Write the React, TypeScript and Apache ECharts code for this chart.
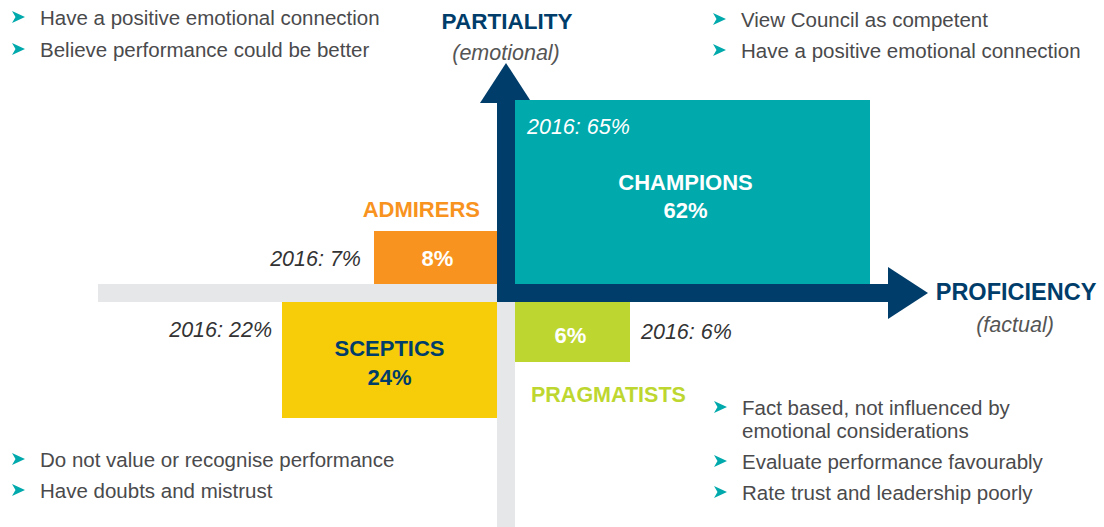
import React, { useEffect, useRef } from "react";
import * as echarts from "echarts";

// ---------- data ----------
const segments = ["CHAMPIONS", "ADMIRERS", "SCEPTICS", "PRAGMATISTS"];
const valuesNow = [62, 8, 24, 6];
const values2016 = [65, 7, 22, 6];
// quadrant of each segment (x sign, y sign)
const quadX = [1, -1, -1, 1];
const quadY = [1, 1, -1, -1];
// extent of each block along the two axes (axis units)
const extentX = [355, 123, 215, 115];
const extentY = [184, 53, 116, 60];

const axisTitles = ["PARTIALITY", "PROFICIENCY"];
const axisSubtitles = ["(emotional)", "(factual)"];

const bulletsTopLeft = ["Have a positive emotional connection", "Believe performance could be better"];
const bulletsTopRight = ["View Council as competent", "Have a positive emotional connection"];
const bulletsBottomLeft = ["Do not value or recognise performance", "Have doubts and mistrust"];
const bulletsBottomRight = [
  "Fact based, not influenced by\nemotional considerations",
  "Evaluate performance favourably",
  "Rate trust and leadership poorly",
];

// ---------- styles / layout ----------
const FONT = '"Liberation Sans", Arial, Helvetica, sans-serif';
const NAVY = "#003D6A";
const GREY = "#E6E7E8";
const TEAL = "#00A9AC";
const COLORS = [TEAL, "#F7931E", "#F7CC08", "#BED730"];
const TEXT_GREY = "#4A4A4C";
const BAR = 9; // half thickness of the axis bands
const AXIS_LEFT = -408;
const AXIS_BOTTOM = -234;
const UP_END = 190;
const UP_TIP = 230;
const RIGHT_END = 382;
const RIGHT_TIP = 422;
const HEAD = 26;

function bulletBlock(lines: string[], x: number, ys: number[]) {
  const els: any[] = [];
  lines.forEach((t, i) => {
    const multi = t.includes("\n");
    els.push({
      type: "polygon",
      x: x,
      y: ys[i] - 6,
      shape: { points: [[0, 0], [13, 6], [0, 12], [3.5, 6]] },
      style: { fill: TEAL },
    });
    els.push({
      type: "text",
      x: x + 28,
      y: multi ? ys[i] - 11.5 : ys[i],
      style: {
        text: t,
        fill: TEXT_GREY,
        fontSize: 20.5,
        fontFamily: FONT,
        lineHeight: 23,
        align: "left",
        verticalAlign: multi ? "top" : "middle",
      },
    });
  });
  return els;
}

function segmentLabels(i: number, L: number, T: number, R: number, B: number) {
  const cx = (L + R) / 2;
  const cy = (T + B) / 2;
  const bold = (text: string, x: number, y: number, fill: string, align = "center", size = 22, lh = 28) => ({
    type: "text",
    x,
    y,
    style: { text, fill, fontSize: size, fontWeight: "bold", fontFamily: FONT, align, verticalAlign: "middle", lineHeight: lh },
  });
  const ital = (text: string, x: number, y: number, fill: string, align: string) => ({
    type: "text",
    x,
    y,
    style: { text, fill, fontSize: 21.5, fontStyle: "italic", fontFamily: FONT, align, verticalAlign: "middle" },
  });
  const name = segments[i];
  const val = valuesNow[i] + "%";
  const prev = "2016: " + values2016[i] + "%";
  switch (i) {
    case 0:
      return [
        bold(name + "\n" + val, cx - 7, cy + 4, "#ffffff", "center", 22, 28),
        ital(prev, L + 12, T + 27, "#ffffff", "left"),
      ];
    case 1:
      return [
        bold(name, R - 17, T - 22, COLORS[1], "right"),
        bold(val, cx + 2, cy + 1, "#ffffff"),
        ital(prev, L - 13, cy + 1, "#333333", "right"),
      ];
    case 2:
      return [
        bold(name + "\n" + val, cx, cy + 3, NAVY, "center", 22, 29),
        ital(prev, L - 10, T + 28, "#333333", "right"),
      ];
    default:
      return [
        bold(val, cx - 2, cy + 3, "#ffffff"),
        bold(name, L + 16, B + 33, COLORS[3], "left", 21.5),
        ital(prev, R + 11, cy, "#333333", "left"),
      ];
  }
}

const blockData = segments.map((_, i) => [
  quadX[i] * BAR,
  quadY[i] * BAR,
  quadX[i] * (BAR + extentX[i]),
  quadY[i] * (BAR + extentY[i]),
]);

export default function App() {
  const ref = useRef<HTMLDivElement>(null);
  useEffect(() => {
    if (!ref.current) return;
    const chart = echarts.init(ref.current, null, { renderer: "svg" });
    const option: any = {
      animation: false,
      backgroundColor: "#ffffff",
      grid: { left: 0, right: 0, top: 0, bottom: 0 },
      xAxis: { type: "value", min: -506, max: 598, show: false },
      yAxis: { type: "value", min: -234, max: 293, show: false },
      graphic: [
        ...bulletBlock(bulletsTopLeft, 12, [17, 49]),
        ...bulletBlock(bulletsTopRight, 713, [19, 50]),
        ...bulletBlock(bulletsBottomLeft, 12, [459, 490]),
        ...bulletBlock(bulletsBottomRight, 714, [407, 461, 492]),
      ],
      series: [
        {
          type: "custom",
          coordinateSystem: "cartesian2d",
          silent: true,
          z: 1,
          data: [[0, 0]],
          renderItem: (_params: any, api: any) => {
            const p = (x: number, y: number) => api.coord([x, y]);
            const box = (x0: number, y0: number, x1: number, y1: number, fill: string) => {
              const a = p(x0, y0);
              const b = p(x1, y1);
              return {
                type: "rect",
                shape: {
                  x: Math.min(a[0], b[0]),
                  y: Math.min(a[1], b[1]),
                  width: Math.abs(b[0] - a[0]),
                  height: Math.abs(b[1] - a[1]),
                },
                style: { fill },
              };
            };
            const upTip = p(0, UP_TIP);
            const rightTip = p(RIGHT_TIP, 0);
            return {
              type: "group",
              children: [
                box(AXIS_LEFT, -BAR, -BAR, BAR, GREY),
                box(-BAR, -BAR, BAR, AXIS_BOTTOM, GREY),
                box(-BAR, -BAR, BAR, UP_END, NAVY),
                box(-BAR, -BAR, RIGHT_END, BAR, NAVY),
                {
                  type: "polygon",
                  shape: { points: [p(-HEAD, UP_END), p(0, UP_TIP), p(HEAD, UP_END)] },
                  style: { fill: NAVY },
                },
                {
                  type: "polygon",
                  shape: { points: [p(RIGHT_END, HEAD), p(RIGHT_TIP, 0), p(RIGHT_END, -HEAD)] },
                  style: { fill: NAVY },
                },
                {
                  type: "text",
                  x: upTip[0] + 1,
                  y: upTip[1] - 42,
                  style: { text: axisTitles[0], fill: NAVY, fontSize: 22.5, fontWeight: "bold", fontFamily: FONT, align: "center", verticalAlign: "middle" },
                },
                {
                  type: "text",
                  x: upTip[0],
                  y: upTip[1] - 10,
                  style: { text: axisSubtitles[0], fill: "#555555", fontSize: 21.5, fontStyle: "italic", fontFamily: FONT, align: "center", verticalAlign: "middle" },
                },
                {
                  type: "text",
                  x: rightTip[0] + 88,
                  y: rightTip[1] - 1,
                  style: { text: axisTitles[1], fill: NAVY, fontSize: 23.5, fontWeight: "bold", fontFamily: FONT, align: "center", verticalAlign: "middle" },
                },
                {
                  type: "text",
                  x: rightTip[0] + 87,
                  y: rightTip[1] + 32,
                  style: { text: axisSubtitles[1], fill: "#555555", fontSize: 21.5, fontStyle: "italic", fontFamily: FONT, align: "center", verticalAlign: "middle" },
                },
              ],
            };
          },
        },
        {
          type: "custom",
          coordinateSystem: "cartesian2d",
          silent: true,
          z: 2,
          data: blockData,
          renderItem: (params: any, api: any) => {
            const i = params.dataIndex;
            const a = api.coord([api.value(0), api.value(1)]);
            const b = api.coord([api.value(2), api.value(3)]);
            const L = Math.min(a[0], b[0]);
            const R = Math.max(a[0], b[0]);
            const T = Math.min(a[1], b[1]);
            const B = Math.max(a[1], b[1]);
            return {
              type: "group",
              children: [
                { type: "rect", shape: { x: L, y: T, width: R - L, height: B - T }, style: { fill: COLORS[i] } },
                ...segmentLabels(i, L, T, R, B),
              ],
            };
          },
        },
      ],
    };
    chart.setOption(option);
    return () => chart.dispose();
  }, []);
  return (
    <div
      ref={ref}
      style={{ position: "fixed", left: 0, top: 0, width: 1104, height: 527, background: "#ffffff" }}
    />
  );
}
